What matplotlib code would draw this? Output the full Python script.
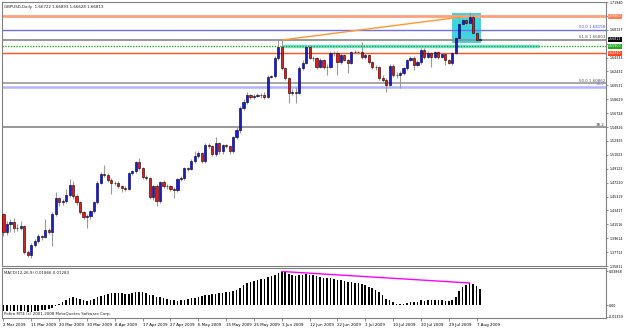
import numpy as np
import matplotlib.pyplot as plt
from matplotlib.patches import Rectangle

# GBPUSD daily, 2 Mar 2009 - 10 Aug 2009 (broker with Sunday bars)
first_open = 1.4290
closes = [1.4045, 1.4153, 1.4181, 1.4099, 1.4105, 1.4126, 1.3772, 1.3731, 1.3868, 1.3922,
          1.3990, 1.3975, 1.4072, 1.4045, 1.4290, 1.4508, 1.4454, 1.4465, 1.4549, 1.4685,
          1.4536, 1.4454, 1.4317, 1.4249, 1.4262, 1.4331, 1.4454, 1.4713, 1.4835, 1.4830,
          1.4754, 1.4713, 1.4720, 1.4672, 1.4645, 1.4640, 1.4849, 1.4876, 1.4999, 1.4917,
          1.4795, 1.4790, 1.4522, 1.4672, 1.4467, 1.4726, 1.4672, 1.4680, 1.4631, 1.4625,
          1.4767, 1.4781, 1.4917, 1.4910, 1.5013, 1.5081, 1.5122, 1.5013, 1.5231, 1.5225,
          1.5108, 1.5258, 1.5149, 1.5231, 1.5220, 1.5149, 1.5340, 1.5449, 1.5749, 1.5831,
          1.5926, 1.5899, 1.5905, 1.5926, 1.5920, 1.5899, 1.6172, 1.6180, 1.6431, 1.6581,
          1.6294, 1.6158, 1.5953, 1.5967, 1.5953, 1.6294, 1.6362, 1.6581, 1.6431, 1.6425,
          1.6308, 1.6403, 1.6308, 1.6300, 1.6499, 1.6495, 1.6376, 1.6471, 1.6403, 1.6362,
          1.6512, 1.6515, 1.6508, 1.6444, 1.6471, 1.6376, 1.6308, 1.6300, 1.6158, 1.6131,
          1.6062, 1.6321, 1.6199, 1.6195, 1.6226, 1.6294, 1.6403, 1.6431, 1.6335, 1.6376,
          1.6540, 1.6444, 1.6499, 1.6444, 1.6512, 1.6444, 1.6485, 1.6403, 1.6362, 1.6499,
          1.6703, 1.6894, 1.6949, 1.6908, 1.6990, 1.6771, 1.6672, 1.66813]
highs = [1.4310, 1.4200, 1.4230, 1.4240, 1.4150, 1.4200, 1.4140, 1.3800, 1.3900, 1.3950,
         1.4020, 1.4010, 1.4230, 1.4100, 1.4320, 1.4600, 1.4530, 1.4500, 1.4640, 1.4770,
         1.4750, 1.4560, 1.4470, 1.4330, 1.4290, 1.4350, 1.4470, 1.4740, 1.4870, 1.4960,
         1.4860, 1.4780, 1.4750, 1.4740, 1.4690, 1.4680, 1.4870, 1.4900, 1.5020, 1.5060,
         1.4930, 1.4820, 1.4800, 1.4690, 1.4700, 1.4740, 1.4760, 1.4710, 1.4690, 1.4660,
         1.4790, 1.4810, 1.4940, 1.4940, 1.5040, 1.5150, 1.5160, 1.5140, 1.5260, 1.5260,
         1.5240, 1.5340, 1.5280, 1.5250, 1.5250, 1.5230, 1.5360, 1.5480, 1.5770, 1.5860,
         1.5960, 1.5940, 1.5930, 1.5950, 1.5945, 1.5960, 1.6190, 1.6200, 1.6450, 1.6680,
         1.6680, 1.6310, 1.6170, 1.6010, 1.6030, 1.6320, 1.6400, 1.6600, 1.6600, 1.6460,
         1.6440, 1.6430, 1.6420, 1.6350, 1.6520, 1.6530, 1.6520, 1.6500, 1.6480, 1.6420,
         1.6530, 1.6540, 1.6530, 1.6640, 1.6500, 1.6480, 1.6390, 1.6330, 1.6320, 1.6200,
         1.6150, 1.6340, 1.6340, 1.6230, 1.6250, 1.6310, 1.6420, 1.6460, 1.6450, 1.6400,
         1.6560, 1.6570, 1.6520, 1.6510, 1.6530, 1.6530, 1.6500, 1.6500, 1.6420, 1.6510,
         1.6720, 1.6950, 1.6970, 1.6960, 1.7058, 1.7030, 1.6790, 1.66893]
lows = [1.3990, 1.4010, 1.4040, 1.4050, 1.4060, 1.4080, 1.3740, 1.3704, 1.3690, 1.3840,
        1.3900, 1.3940, 1.3960, 1.4020, 1.3850, 1.4270, 1.4400, 1.4420, 1.4440, 1.4530,
        1.4500, 1.4420, 1.4290, 1.4230, 1.4100, 1.4230, 1.4300, 1.4430, 1.4700, 1.4800,
        1.4730, 1.4560, 1.4690, 1.4650, 1.4600, 1.4610, 1.4620, 1.4820, 1.4850, 1.4900,
        1.4770, 1.4760, 1.4500, 1.4490, 1.4400, 1.4440, 1.4650, 1.4640, 1.4610, 1.4510,
        1.4600, 1.4740, 1.4760, 1.4880, 1.4890, 1.4990, 1.5060, 1.4990, 1.4990, 1.5190,
        1.5080, 1.5090, 1.5120, 1.5120, 1.5190, 1.5120, 1.5130, 1.5320, 1.5400, 1.5720,
        1.5800, 1.5870, 1.5870, 1.5890, 1.5885, 1.5870, 1.5880, 1.6160, 1.6150, 1.6400,
        1.6270, 1.6130, 1.5817, 1.5920, 1.5817, 1.5930, 1.6270, 1.6340, 1.6410, 1.6390,
        1.6280, 1.6290, 1.6280, 1.6199, 1.6290, 1.6460, 1.6199, 1.6350, 1.6380, 1.6226,
        1.6340, 1.6490, 1.6480, 1.6420, 1.6420, 1.6350, 1.6280, 1.6270, 1.6130, 1.6100,
        1.5967, 1.6040, 1.6170, 1.6160, 1.6022, 1.6200, 1.6270, 1.6390, 1.6267, 1.6320,
        1.6350, 1.6420, 1.6430, 1.6308, 1.6430, 1.6420, 1.6430, 1.6335, 1.6340, 1.6330,
        1.6480, 1.6680, 1.6880, 1.6870, 1.6890, 1.6750, 1.6640, 1.66628]

macd_vals = [-0.0070, -0.0072, -0.0071, -0.0070, -0.0068, -0.0066, -0.0072, -0.0078, -0.0076, -0.0072,
             -0.0066, -0.0060, -0.0052, -0.0046, -0.0032, -0.0010, 0.0006, 0.0030, 0.0062, 0.0082,
             0.0093, 0.0086, 0.0070, 0.0057, 0.0050, 0.0055, 0.0068, 0.0088, 0.0106, 0.0120,
             0.0130, 0.0138, 0.0142, 0.0140, 0.0136, 0.0132, 0.0132, 0.0138, 0.0148, 0.0152,
             0.0146, 0.0136, 0.0120, 0.0110, 0.0098, 0.0092, 0.0082, 0.0074, 0.0062, 0.0052,
             0.0050, 0.0052, 0.0060, 0.0068, 0.0076, 0.0084, 0.0094, 0.0100, 0.0110, 0.0120,
             0.0124, 0.0132, 0.0136, 0.0142, 0.0146, 0.0146, 0.0156, 0.0170, 0.0200, 0.0228,
             0.0254, 0.0270, 0.0282, 0.0292, 0.0298, 0.0300, 0.0318, 0.0330, 0.0350, 0.0372,
             0.0387, 0.0380, 0.0362, 0.0350, 0.0340, 0.0344, 0.0346, 0.0352, 0.0348, 0.0342,
             0.0332, 0.0326, 0.0316, 0.0306, 0.0306, 0.0302, 0.0292, 0.0288, 0.0278, 0.0266,
             0.0264, 0.0258, 0.0250, 0.0238, 0.0228, 0.0212, 0.0194, 0.0176, 0.0150, 0.0116,
             0.0074, 0.0054, 0.0032, 0.0016, 0.0008, 0.0010, 0.0018, 0.0030, 0.0036, 0.0040,
             0.0052, 0.0050, 0.0054, 0.0052, 0.0056, 0.0054, 0.0056, 0.0050, 0.0046, 0.0058,
             0.0098, 0.0156, 0.0204, 0.0234, 0.0254, 0.0244, 0.0216, 0.0187]

date_labels = ["2 Mar 2009", "11 Mar 2009", "20 Mar 2009", "30 Mar 2009", "8 Apr 2009",
               "17 Apr 2009", "27 Apr 2009", "6 May 2009", "15 May 2009", "25 May 2009",
               "3 Jun 2009", "12 Jun 2009", "22 Jun 2009", "1 Jul 2009", "10 Jul 2009",
               "20 Jul 2009", "29 Jul 2009", "7 Aug 2009"]
price_ticks = [1.71940, 1.70038, 1.68137, 1.66235, 1.64334, 1.62432, 1.60531, 1.58629,
               1.56728, 1.54826, 1.52925, 1.51023, 1.49122, 1.47220, 1.45319, 1.43417,
               1.41516, 1.39614, 1.37713, 1.35811]
hidden_ticks = [1.70038, 1.66235]   # covered by the line price boxes

# chart objects
fib_lines = [(1.68158, "#7070ee", 1.0), (1.66803, "#909090", 1.3),
             (1.60862, "#a0a0a0", 1.3), (1.54800, "#909090", 1.3)]
hlines = [(1.69960, "#ffa07a", 2.0, "-"),
          (1.65900, "#22aa22", 1.0, (0, (1, 1))),
          (1.64940, "#ff5522", 1.0, "-")]
lavender_level = 1.60360
bid = 1.66813

opens = [first_open] + closes[:-1]
n = len(closes)
idx = np.arange(n)
fs = 2.9
fs_axis = 2.35
plt.rcParams["font.family"] = ["DejaVu Sans"]

fig = plt.figure(figsize=(6.25, 3.3), dpi=100)
ax = fig.add_axes([2 / 625, 1 - 266 / 330, 604 / 625, 264 / 330])
ax2 = fig.add_axes([2 / 625, 1 - 318 / 330, 604 / 625, 50 / 330])
xlim = (-0.43, 173.2)

# background objects
ax.add_patch(Rectangle((128.9, 1.6635), 8.5, 1.7048 - 1.6635, facecolor="#3dd6e0",
                       edgecolor="none", zorder=0))
for price, col, lw, ls in hlines:
    ax.axhline(price, color=col, lw=lw, ls=ls, zorder=1)
ax.plot([80.4, 154.0], [1.6594, 1.6594], color="#6fe3d6", lw=2.5, zorder=0.9,
        solid_capstyle="butt")
for price, col, lw in fib_lines:
    ax.axhline(price, color=col, lw=lw, zorder=1)
ax.axhline(lavender_level, color="#b4b4ff", lw=1.8, zorder=1)
ax.plot([80.4, 131.8], [1.6676, 1.6990], color="#ff9933", lw=1, zorder=1.5)

# candles
ax.vlines(idx, lows, highs, color="#999999", lw=0.8, zorder=2)
o = np.array(opens)
c = np.array(closes)
bottom = np.minimum(o, c)
height = np.maximum(np.abs(c - o), 0.0003)
colors = np.where(c >= o, "#1515ff", "#ff1010")
ax.bar(idx, height, bottom=bottom, width=0.62, color=colors, edgecolor="black",
       lw=0.4, zorder=3)

# fib labels
ytr = ax.get_yaxis_transform()
ax.text(0.998, 1.68158 + 0.0006, "50.0 1.68158", transform=ytr,
        ha="right", va="bottom", fontsize=fs, color="#5555ee")
ax.text(0.998, 1.66803 + 0.0006, "61.8 1.66803", transform=ytr,
        ha="right", va="bottom", fontsize=fs, color="#555555")
ax.text(0.998, 1.60862 + 0.0006, "50.0 1.60862", transform=ytr,
        ha="right", va="bottom", fontsize=fs, color="#555555")
ax.text(0.998, lavender_level + 0.0004, "38.2", transform=ytr,
        ha="right", va="bottom", fontsize=fs, color="#7777ee")
ax.text(0.998, 1.54800 + 0.0006, "38.2", transform=ytr,
        ha="right", va="bottom", fontsize=fs, color="#333333")

ax.text(0.004, 0.988, "GBPUSD,Daily  1.66722 1.66893 1.66628 1.66813",
        transform=ax.transAxes, ha="left", va="top", fontsize=fs, color="#222222")

ax.set_xlim(xlim)
ax.set_ylim(1.3595, 1.7194)
ax.yaxis.tick_right()
ax.set_yticks(price_ticks)
ax.set_yticklabels(["" if v in hidden_ticks else f"{v:.5f}" for v in price_ticks])
ax.tick_params(axis="y", labelsize=fs_axis, length=1.5, width=0.6, color="#808080", pad=0.8)
ax.set_xticks([])
for lbl in ax.get_yticklabels():
    lbl.set_clip_on(False)

# price boxes on the right axis
boxes = [(1.69960, "1.69960", "#ff7f50"), (bid, "1.66813", "black"),
         (1.65900, "1.65900", "#22aa22"), (1.64940, "1.64940", "#ff4422")]
for price, txt, bc in boxes:
    ax.text(1.0035, price, txt, transform=ytr, ha="left",
            va="center", fontsize=fs_axis, color="white", clip_on=False, zorder=10,
            bbox=dict(boxstyle="square,pad=0.12", facecolor=bc, edgecolor="none"))

# MACD histogram
ax2.bar(idx, macd_vals, width=0.45, color="black", zorder=2)
ax2.plot([80, 134], [0.0387, 0.0254], color="#ff00ff", lw=1, zorder=3)
ax2.set_xlim(xlim)
ax2.set_ylim(-0.0150, 0.0427)
ax2.yaxis.tick_right()
ax2.set_yticks([0.03868, 0.0, -0.01359])
ax2.set_yticklabels(["0.03868", "0.00", "-0.01359"])
ax2.tick_params(axis="y", labelsize=fs_axis, length=1.5, width=0.6, color="#808080", pad=0.8)
ax2.set_xticks(idx[::8][:len(date_labels)])
ax2.set_xticklabels(date_labels)
for lbl in ax2.get_xticklabels():
    lbl.set_ha("left")
ax2.tick_params(axis="x", labelsize=fs, length=2, width=0.6, color="#808080", pad=1.5)
ax2.text(0.004, 0.93, "MACD(12,26,9) 0.01866 0.01283", transform=ax2.transAxes,
         ha="left", va="top", fontsize=fs, color="#222222")
ax2.text(0.004, 0.03, "Pofiro MT4 (c) 2001-2008 MetaQuotes Software Corp.",
         transform=ax2.transAxes, ha="left", va="bottom", fontsize=fs, color="#222222")

for a in (ax, ax2):
    for s in a.spines.values():
        s.set_color("#808080")
        s.set_linewidth(0.8)

fig.savefig("out.png", dpi=100, facecolor="white")
